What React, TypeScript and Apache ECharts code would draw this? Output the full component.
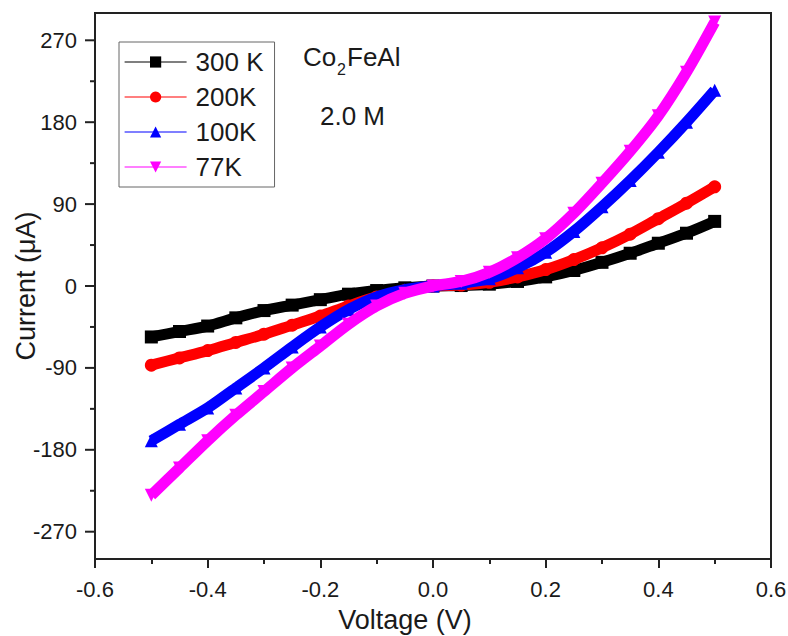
import React, { useEffect, useRef } from "react";
import * as echarts from "echarts";

const voltage = [
  -0.5, -0.45, -0.4, -0.35, -0.3, -0.25, -0.2, -0.15, -0.1, -0.05, 0,
  0.05, 0.1, 0.15, 0.2, 0.25, 0.3, 0.35, 0.4, 0.45, 0.5,
];
const current300K = [-56, -50, -44, -35, -27, -21, -15, -9, -5, -2, 0, 0.5, 2, 5, 10, 17, 26, 36, 47, 58, 71];
const current200K = [-87, -79, -71, -62, -53, -43, -33, -22, -12, -5, 0, 1, 4, 10, 18, 29, 42, 57, 74, 91, 109];
const current100K = [-170, -152, -134, -112, -90, -67, -45, -26, -12, -4, 0, 3, 8, 20, 37, 60, 87, 116, 147, 180, 215];
const current77K = [-230, -200, -170, -142, -116, -90, -66, -42, -22, -8, 0, 5, 15, 31, 52, 80, 113, 148, 187, 235, 290];

const seriesNames = ["300 K", "200K", "100K", "77K"];
const seriesColors = ["#000000", "#ff0000", "#0000ff", "#ff00ff"];
const seriesSymbols = ["rect", "circle", "triangle", "triangle"];
const seriesRotate = [0, 0, 0, 180];
const seriesValues = [current300K, current200K, current100K, current77K];

const yMajorTicks = [-270, -180, -90, 0, 90, 180, 270];
const yMinorTicks = [-225, -135, -45, 45, 135, 225];

const X_MIN = -0.6;
const FONT = "Liberation Sans, Arial, sans-serif";
const TXT = "#1a1a1a";

function tickSeries(values: number[], len: number) {
  return {
    type: "custom",
    silent: true,
    clip: false,
    z: 10,
    data: values.map((v) => [X_MIN, v]),
    renderItem: (_params: any, api: any) => {
      const p = api.coord([X_MIN, api.value(1)]);
      return {
        type: "line",
        shape: { x1: p[0] - len, y1: p[1], x2: p[0], y2: p[1] },
        style: { stroke: "#222", lineWidth: 2 },
      };
    },
  };
}

export default function App() {
  const ref = useRef<HTMLDivElement>(null);
  useEffect(() => {
    if (!ref.current) return;
    const chart = echarts.init(ref.current, null, { renderer: "svg" });
    const series: any[] = seriesNames.map((name, i) => ({
      name,
      type: "line",
      data: voltage.map((v, j) => [v, seriesValues[i][j]]),
      smooth: 0.3,
      symbol: seriesSymbols[i],
      symbolRotate: seriesRotate[i],
      symbolSize: 13,
      showSymbol: true,
      showAllSymbol: true,
      color: seriesColors[i],
      lineStyle: { width: 11, color: seriesColors[i] },
      itemStyle: { color: seriesColors[i] },
      z: 2 + i,
    }));
    series.push(tickSeries(yMajorTicks, 10));
    series.push(tickSeries(yMinorTicks, 5));
    chart.setOption({
      animation: false,
      backgroundColor: "#ffffff",
      grid: {
        left: 95,
        right: 17,
        top: 13,
        bottom: 77,
        show: true,
        borderColor: "#222",
        borderWidth: 2,
        containLabel: false,
        outerBoundsMode: "none",
      },
      xAxis: {
        type: "value",
        min: X_MIN,
        max: 0.6,
        interval: 0.2,
        name: "Voltage (V)",
        nameLocation: "middle",
        nameGap: 47,
        nameMoveOverlap: false,
        nameTextStyle: { fontSize: 27, color: TXT, fontFamily: FONT, padding: [0, 56, 0, 0] },
        axisLine: { show: true, onZero: false, lineStyle: { color: "#222", width: 2 } },
        axisTick: { show: true, inside: false, length: 9, lineStyle: { color: "#222", width: 2 } },
        minorTick: { show: true, splitNumber: 2, length: 5, lineStyle: { color: "#222", width: 2 } },
        splitLine: { show: false },
        minorSplitLine: { show: false },
        axisLabel: {
          fontSize: 22,
          color: TXT,
          fontFamily: FONT,
          margin: 19,
          formatter: (v: number) => {
            const s = v.toFixed(1);
            return s === "-0.0" ? "0.0" : s;
          },
        },
      },
      yAxis: {
        type: "value",
        min: -300,
        max: 300,
        position: "left",
        name: "Current (\u03bcA)",
        nameLocation: "middle",
        nameGap: 56,
        nameMoveOverlap: false,
        nameTextStyle: { fontSize: 27, color: TXT, fontFamily: FONT },
        axisLine: { show: true, onZero: false, lineStyle: { color: "#222", width: 2 } },
        axisTick: { show: false },
        splitLine: { show: false },
        axisLabel: {
          fontSize: 22,
          color: TXT,
          fontFamily: FONT,
          margin: 18,
          customValues: yMajorTicks,
        },
      },
      legend: {
        orient: "vertical",
        left: 119,
        top: 42,
        data: seriesNames,
        itemWidth: 62,
        itemHeight: 14,
        itemGap: 9,
        padding: [7, 11, 7, 5],
        borderColor: "#666",
        borderWidth: 1,
        backgroundColor: "#fff",
        lineStyle: { width: 1.2 },
        textStyle: { fontSize: 26, color: TXT, fontFamily: FONT, padding: [0, 0, 0, 4] },
      },
      graphic: [
        { type: "text", left: 303, top: 44, style: { text: "Co", fontSize: 26, fill: TXT, fontFamily: FONT } },
        { type: "text", left: 337, top: 61, style: { text: "2", fontSize: 16, fill: TXT, fontFamily: FONT } },
        { type: "text", left: 347, top: 44, style: { text: "FeAl", fontSize: 26, fill: TXT, fontFamily: FONT } },
        { type: "text", left: 320, top: 103, style: { text: "2.0 M", fontSize: 26, fill: TXT, fontFamily: FONT } },
      ],
      series,
    });
    return () => chart.dispose();
  }, []);
  return (
    <div
      ref={ref}
      style={{ position: "fixed", left: 0, top: 0, width: 788, height: 636, background: "#fff" }}
    />
  );
}
